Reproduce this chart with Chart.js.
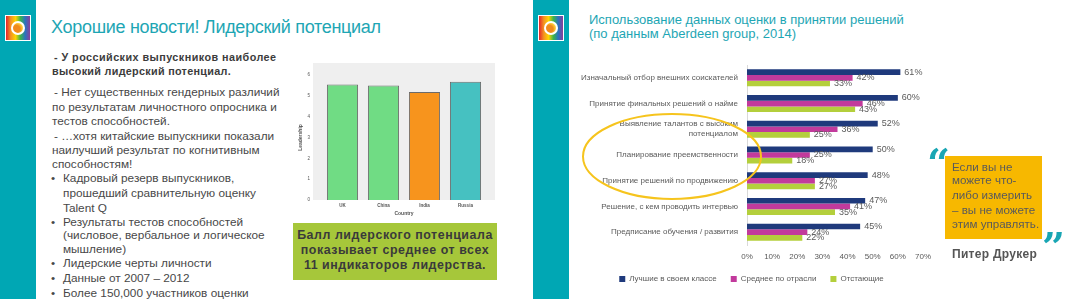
<!DOCTYPE html>
<html lang="ru">
<head>
<meta charset="UTF-8">
<title>Лидерский потенциал</title>
<script src="https://cdn.jsdelivr.net/npm/chart.js"></script>
<style>
  body {
    margin: 0;
    width: 1066px;
    height: 299px;
    overflow: hidden;
    background: #fff;
    font-family: "Liberation Sans", Arial, sans-serif;
    color: #484848;
    position: relative;
  }
  .band { position: absolute; top: 0; width: 36px; height: 299px; background: #00a7b4; }
  .logo {
    position: absolute; top: 15px; width: 24px; height: 24px;
    border: 1px solid #fff;
    background: linear-gradient(90deg, #e5232b, #f39321, #ffd400, #3cb54a, #2a72c0, #8a3f98);
  }
  .logo::after {
    content: ""; position: absolute; left: 5px; top: 5px; width: 10px; height: 10px;
    border: 2px solid #fff; border-radius: 50%;
    background: radial-gradient(circle at 35% 60%, #f08a1c 40%, #ffd23c 70%);
  }
  .ln { position: absolute; white-space: nowrap; line-height: 14px; font-size: 11.8px; }
  .b { font-weight: bold; letter-spacing: 0.45px; font-size: 10.8px; color: #3c3c3c; }
  .title { position: absolute; color: #1ea6b4; white-space: nowrap; }
  .green {
    position: absolute; left: 293px; top: 223px; width: 204px; height: 57px;
    background: #a6c73a;
  }
  .green div {
    position: absolute; left: 0; width: 204px; text-align: center;
    font-weight: bold; font-size: 12.4px; letter-spacing: 0.55px; color: #3a3a3a; line-height: 14px;
  }
  .quote {
    position: absolute; left: 945px; top: 156px; width: 97px; height: 83px; background: #f7b800;
  }
  .quote div { position: absolute; left: 7px; font-size: 11.6px; color: #5a5a5a; line-height: 14px; white-space: nowrap; }
  .qm { position: absolute; color: #19a6b4; font: bold 40px "DejaVu Serif", serif; line-height: 40px; }
  canvas { position: absolute; }
</style>
</head>
<body>

<!-- левый слайд -->
<div class="band" style="left:0"></div>
<div class="logo" style="left:5px"></div>
<div class="title" style="left:51px; top:17px; font-size:18px; letter-spacing:-0.3px;">Хорошие новости! Лидерский потенциал</div>

<div class="ln b" style="left:54px; top:50px;">- У российских выпускников наиболее</div>
<div class="ln b" style="left:52px; top:64px; letter-spacing:0.3px;">высокий лидерский потенциал.</div>

<div class="ln" style="left:54px; top:85px;">- Нет существенных гендерных различий</div>
<div class="ln" style="left:52px; top:100px;">по результатам личностного опросника и</div>
<div class="ln" style="left:52px; top:114px;">тестов способностей.</div>
<div class="ln" style="left:54px; top:129px;">- …хотя китайские выпускники показали</div>
<div class="ln" style="left:52px; top:143px;">наилучший результат по когнитивным</div>
<div class="ln" style="left:52px; top:157px;">способностям!</div>

<div class="ln" style="left:51px; top:171px;">•</div>
<div class="ln" style="left:63px; top:171px;">Кадровый резерв выпускников,</div>
<div class="ln" style="left:63px; top:186px;">прошедший сравнительную оценку</div>
<div class="ln" style="left:63px; top:201px;">Talent Q</div>
<div class="ln" style="left:51px; top:215px;">•</div>
<div class="ln" style="left:63px; top:215px;">Результаты тестов способностей</div>
<div class="ln" style="left:63px; top:228px;">(числовое, вербальное и логическое</div>
<div class="ln" style="left:63px; top:242px;">мышление)</div>
<div class="ln" style="left:51px; top:256px;">•</div>
<div class="ln" style="left:63px; top:256px;">Лидерские черты личности</div>
<div class="ln" style="left:51px; top:271px;">•</div>
<div class="ln" style="left:63px; top:271px;">Данные от 2007 – 2012</div>
<div class="ln" style="left:51px; top:286px;">•</div>
<div class="ln" style="left:63px; top:286px;">Более 150,000 участников оценки</div>

<canvas id="leader" width="200" height="160" style="left:295px; top:58px;"></canvas>

<div class="green">
  <div style="top:5px">Балл лидерского потенциала</div>
  <div style="top:20px">показывает среднее от всех</div>
  <div style="top:35px">11 индикаторов лидерства.</div>
</div>

<!-- правый слайд -->
<div class="band" style="left:533px"></div>
<div class="logo" style="left:538px"></div>
<div class="title" style="left:589px; top:12px; font-size:13px;">Использование данных оценки в принятии решений</div>
<div class="title" style="left:589px; top:26px; font-size:13px;">(по данным Aberdeen group, 2014)</div>

<canvas id="usage" width="373" height="248" style="left:565px; top:51px;"></canvas>

<div class="qm" style="left:927px; top:143px;">“</div>
<div class="quote">
  <div style="top:4px">Если вы не</div>
  <div style="top:17px">можете что-</div>
  <div style="top:32px">либо измерить</div>
  <div style="top:47px">– вы не можете</div>
  <div style="top:61px">этим управлять.</div>
</div>
<div class="qm" style="left:1042px; top:227px;">”</div>
<div class="ln b" style="left:952px; top:247px; font-size:12px; letter-spacing:0.3px; color:#555;">Питер Друкер</div>

<script>
// --- данные: лидерский потенциал по странам
const countries = ["UK", "China", "India", "Russia"];
const leadership = [5.55, 5.5, 5.18, 5.68];
const countryColors = ["#70dc84", "#70dc84", "#f7941d", "#46c1c1"];

// --- данные: использование оценки (Aberdeen group, 2014)
const decisions = [
  "Изначальный отбор внешних соискателей",
  "Принятие финальных решений о найме",
  ["Выявление талантов с высоким", "потенциалом"],
  "Планирование преемственности",
  "Принятие решений по продвижению",
  "Решение, с кем проводить интервью",
  "Предписание обучения / развития"
];
const bestInClass = [61, 60, 52, 50, 48, 47, 45];
const industryAvg = [42, 46, 36, 25, 27, 41, 24];
const laggards = [33, 43, 25, 18, 27, 35, 22];
const seriesNames = ["Лучшие в своем классе", "Среднее по отрасли", "Отстающие"];
const xTicks = [0, 10, 20, 30, 40, 50, 60, 70];

Chart.defaults.font.family = '"Liberation Sans", Arial, sans-serif';
Chart.defaults.animation = false;

// серый фон области графика (как в SPSS)
const plotBg = {
  id: "plotBg",
  beforeDraw(chart) {
    const a = chart.chartArea, ctx = chart.ctx;
    ctx.save();
    ctx.fillStyle = "#efefef";
    ctx.fillRect(a.left - 9, a.top - 12, a.right - a.left + 18, a.bottom - a.top + 12);
    ctx.restore();
  }
};

new Chart(document.getElementById("leader"), {
  type: "bar",
  data: {
    labels: countries,
    datasets: [{
      data: leadership,
      backgroundColor: countryColors,
      borderColor: "#6b6b6b",
      borderWidth: 1,
      barPercentage: 0.76,
      categoryPercentage: 1
    }]
  },
  options: {
    responsive: false,
    layout: { padding: { top: 17, right: 9 } },
    plugins: { legend: { display: false }, tooltip: { enabled: false } },
    scales: {
      x: {
        grid: { display: false, drawTicks: false },
        border: { display: false },
        ticks: { font: { size: 4.5, weight: "bold" }, color: "#555", padding: 3 },
        title: { display: true, text: "Country", font: { size: 5, weight: "bold" }, color: "#555", padding: 1 },
        afterFit(s) { s.height = 18; }
      },
      y: {
        min: 0, max: 6,
        grid: { display: false, drawTicks: false },
        border: { display: false },
        ticks: { stepSize: 1, autoSkip: false, font: { size: 4.5 }, color: "#555", padding: 12 },
        title: { display: true, text: "Leadership", font: { size: 5, weight: "bold" }, color: "#555", padding: 3 },
        afterFit(s) { s.width = 27; }
      }
    }
  },
  plugins: [plotBg]
});

// подписи значений справа от полос
const valueLabels = {
  id: "valueLabels",
  afterDatasetsDraw(chart) {
    const ctx = chart.ctx;
    ctx.save();
    ctx.font = '9px "Liberation Sans", Arial, sans-serif';
    ctx.fillStyle = "#5a5a5a";
    ctx.textBaseline = "middle";
    chart.data.datasets.forEach((ds, i) => {
      chart.getDatasetMeta(i).data.forEach((el, j) => {
        ctx.fillText(ds.data[j] + "%", el.x + 4, el.y);
      });
    });
    ctx.restore();
  }
};

// жёлтый овал вокруг «талантовых» решений
const highlight = {
  id: "highlight",
  afterDraw(chart) {
    const y = chart.scales.y, a = chart.chartArea, ctx = chart.ctx;
    const cy = y.getPixelForValue(3) + 1.5;
    const ry = (y.getPixelForValue(4) - y.getPixelForValue(3)) * 1.65;
    ctx.save();
    ctx.strokeStyle = "#f6c41d";
    ctx.lineWidth = 2;
    ctx.beginPath();
    ctx.ellipse(a.left - 75, cy, 89, ry, 0, 0, Math.PI * 2);
    ctx.stroke();
    ctx.restore();
  }
};

new Chart(document.getElementById("usage"), {
  type: "bar",
  data: {
    labels: decisions,
    datasets: [
      { label: seriesNames[0], data: bestInClass, backgroundColor: "#1f3a7c" },
      { label: seriesNames[1], data: industryAvg, backgroundColor: "#c23a9c" },
      { label: seriesNames[2], data: laggards, backgroundColor: "#b4cf3c" }
    ]
  },
  options: {
    indexAxis: "y",
    responsive: false,
    datasets: { bar: { categoryPercentage: 0.66, barPercentage: 1 } },
    layout: { padding: { top: 6, bottom: 6 } },
    plugins: {
      tooltip: { enabled: false },
      legend: {
        position: "bottom",
        labels: { boxWidth: 6, boxHeight: 6, padding: 14, font: { size: 8 }, color: "#5a5a5a" }
      }
    },
    scales: {
      x: {
        min: xTicks[0], max: xTicks[xTicks.length - 1],
        grid: { display: false, drawTicks: false },
        border: { display: false },
        ticks: { stepSize: 10, padding: 7, font: { size: 8 }, color: "#5a5a5a", callback: v => v + "%" },
        afterFit(s) { s.height = 16; }
      },
      y: {
        grid: { display: false, drawTicks: false },
        border: { color: "#d9d9d9" },
        ticks: { font: { size: 8, lineHeight: 1.25 }, color: "#5a5a5a", padding: 9 },
        afterFit(s) { s.width = 182; }
      }
    }
  },
  plugins: [valueLabels, highlight]
});
</script>
</body>
</html>
